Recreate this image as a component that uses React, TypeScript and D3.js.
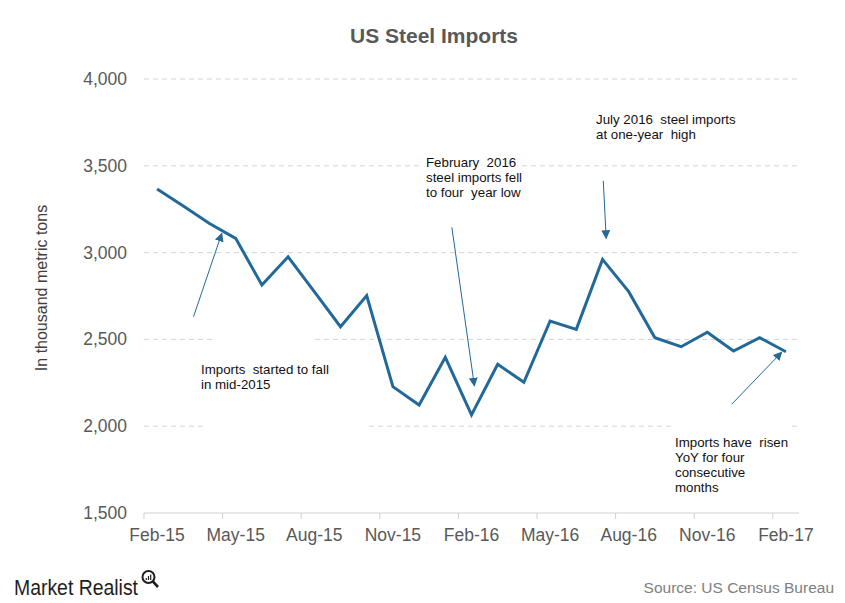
import React from "react";
import * as d3 from "d3";

const months = [
  "Feb-15","Mar-15","Apr-15","May-15","Jun-15","Jul-15","Aug-15","Sep-15","Oct-15","Nov-15","Dec-15",
  "Jan-16","Feb-16","Mar-16","Apr-16","May-16","Jun-16","Jul-16","Aug-16","Sep-16","Oct-16","Nov-16","Dec-16",
  "Jan-17","Feb-17",
];
const imports = [
  3366, 3268, 3168, 3082, 2813, 2976, 2775, 2573, 2752, 2228, 2122,
  2397, 2065, 2357, 2253, 2606, 2558, 2961, 2775, 2510, 2458, 2541, 2433,
  2510, 2429,
];
const yTicks = [1500, 2000, 2500, 3000, 3500, 4000];
const xLabelMonths = ["Feb-15","May-15","Aug-15","Nov-15","Feb-16","May-16","Aug-16","Nov-16","Feb-17"];

// arrows in data space: [fromIndex, fromValue, toIndex, toValue]
const arrows: [number, number, number, number][] = [
  [1.39, 2631, 2.47, 3111],
  [11.25, 3146, 12.11, 2232],
  [17.03, 3414, 17.14, 3082],
  [21.93, 2126, 23.84, 2426],
];

const notes = [
  { x: 201, y: 369, lines: ["Imports  started to fall", "in mid-2015"] },
  { x: 426, y: 162, lines: ["February  2016", "steel imports fell", "to four  year low"] },
  { x: 596, y: 119, lines: ["July 2016  steel imports", "at one-year  high"] },
  { x: 675, y: 442, lines: ["Imports have  risen", "YoY for four", "consecutive", "months"] },
];

// white boxes behind annotations (hide gridlines)
const masks = [
  { x: 213, y: 333, w: 100, h: 14 },
  { x: 205, y: 420, w: 163, h: 14 },
  { x: 420, y: 160, w: 97, h: 14 },
  { x: 672, y: 420, w: 118, h: 14 },
];

const LINE = "#22699a";
const FONT = "'Liberation Sans', Arial, sans-serif";

export default function App() {
  const x = d3.scaleBand<string>().domain(months).range([144, 799]).paddingInner(0).paddingOuter(0);
  const y = d3.scaleLinear().domain([1500, 4000]).range([513, 79]);
  const step = x.step();
  const xi = (i: number) => (x(months[0]) as number) + step / 2 + i * step;

  const line = d3
    .line<number>()
    .x((_, i) => xi(i))
    .y((d) => y(d))
    .curve(d3.curveLinear);

  const [x0, x1] = x.range();

  return (
    <svg width={845} height={603} style={{ position: "absolute", left: 0, top: 0, background: "#fff" }}>
      <defs>
        <marker id="ah" viewBox="0 0 10 10" refX="9" refY="5" markerWidth="9" markerHeight="9" markerUnits="userSpaceOnUse" orient="auto">
          <path d="M0,0 L10,5 L0,10 z" fill={LINE} />
        </marker>
      </defs>
      <rect width={845} height={603} fill="#fff" />
      <text x={434} y={43} textAnchor="middle" fontFamily={FONT} fontWeight="bold" fontSize={21} fill="#595959">
        US Steel Imports
      </text>

      {/* gridlines */}
      {yTicks.filter((t) => t > 1500).map((t) => (
        <line key={t} x1={x0} x2={x1} y1={y(t)} y2={y(t)} stroke="#d4d4d4" strokeWidth={1} strokeDasharray="5,4" />
      ))}
      {masks.map((m, i) => (
        <rect key={i} x={m.x} y={m.y} width={m.w} height={m.h} fill="#fff" />
      ))}

      {/* x axis */}
      <line x1={x0} x2={x1} y1={y(1500)} y2={y(1500)} stroke="#d0d0d0" strokeWidth={1} />
      {months.map((m, i) =>
        i % 3 === 0 ? (
          <line key={m} x1={x(m) as number} x2={x(m) as number} y1={y(1500)} y2={y(1500) + 6} stroke="#d0d0d0" />
        ) : null
      )}
      {xLabelMonths.map((m) => (
        <text key={m} x={(x(m) as number) + step / 2} y={541} textAnchor="middle" fontFamily={FONT} fontSize={17.5} fill="#595959">
          {m}
        </text>
      ))}

      {/* y axis labels */}
      {yTicks.map((t) => (
        <text key={t} x={127} y={y(t) + 6} textAnchor="end" fontFamily={FONT} fontSize={17.5} fill="#595959">
          {d3.format(",")(t)}
        </text>
      ))}
      <text
        transform={`translate(47,288) rotate(-90)`}
        textAnchor="middle"
        fontFamily={FONT}
        fontSize={16}
        fill="#404040"
      >
        In thousand metric tons
      </text>

      {/* series */}
      <path d={line(imports) || ""} fill="none" stroke={LINE} strokeWidth={3} strokeLinejoin="miter" />

      {/* arrows */}
      {arrows.map((a, i) => (
        <line key={i} x1={xi(a[0])} y1={y(a[1])} x2={xi(a[2])} y2={y(a[3])} stroke={LINE} strokeWidth={1} markerEnd="url(#ah)" />
      ))}

      {/* notes */}
      {notes.map((n, i) => (
        <text key={i} fontFamily={FONT} fontSize={13.3} fill="#111">
          {n.lines.map((l, j) => (
            <tspan key={j} x={n.x} y={n.y + 5 + j * 15} style={{ whiteSpace: "pre" }}>
              {l}
            </tspan>
          ))}
        </text>
      ))}

      {/* footer */}
      <text x={14} y={595} fontFamily="'Liberation Sans Narrow', 'Liberation Sans', Arial, sans-serif" fontSize={22} fill="#1e1e1e" textLength={124} lengthAdjust="spacingAndGlyphs">
        Market Realist
      </text>
      <g stroke="#1e1e1e" fill="none">
        <circle cx={148.5} cy={577} r={6} strokeWidth={2} />
        <line x1={152.8} y1={581.3} x2={158} y2={587} strokeWidth={2.6} />
        <line x1={146.3} y1={580} x2={146.3} y2={578} strokeWidth={1.2} />
        <line x1={148.5} y1={580} x2={148.5} y2={576} strokeWidth={1.2} />
        <line x1={150.7} y1={580} x2={150.7} y2={574.5} strokeWidth={1.2} />
      </g>
      <text x={834} y={593} textAnchor="end" fontFamily={FONT} fontSize={15.5} fill="#808080">
        Source: US Census Bureau
      </text>
    </svg>
  );
}
